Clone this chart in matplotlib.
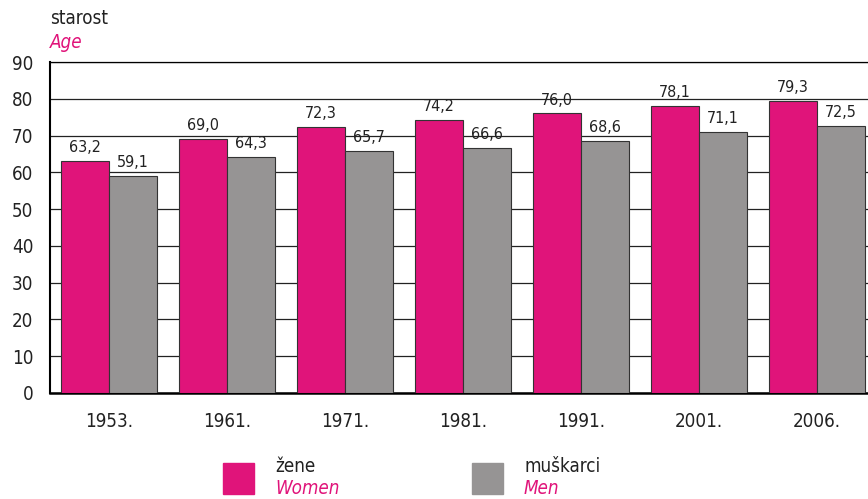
import numpy as np
import matplotlib.pyplot as plt
from matplotlib import font_manager

# narrow look: DejaVu Sans condensed if the file is there
names = {f.name for f in font_manager.fontManager.ttflist}
FONT = 'Liberation Sans Narrow' if 'Liberation Sans Narrow' in names else 'DejaVu Sans'
plt.rcParams['font.family'] = [FONT, 'DejaVu Sans']
plt.rcParams['font.stretch'] = 'condensed'

years = ['1953.', '1961.', '1971.', '1981.', '1991.', '2001.', '2006.']
women = [63.2, 69.0, 72.3, 74.2, 76.0, 78.1, 79.3]
men = [59.1, 64.3, 65.7, 66.6, 68.6, 71.1, 72.5]

PINK = '#E0147A'
GRAY = '#969494'

fig = plt.figure(figsize=(8.68, 4.99), dpi=100)
ax = fig.add_axes([50 / 868, 1 - 393 / 499, 826 / 868, 331 / 499])

x = np.arange(len(years))
w = 0.407
b1 = ax.bar(x - w / 2, women, w, color=PINK, edgecolor='#333333', linewidth=0.8, zorder=3)
b2 = ax.bar(x + w / 2, men, w, color=GRAY, edgecolor='#333333', linewidth=0.8, zorder=3)

for bars, vals in ((b1, women), (b2, men)):
    for r, v in zip(bars, vals):
        ax.text(r.get_x() + r.get_width() / 2, v + 1.6, f'{v:.1f}'.replace('.', ','),
                ha='center', va='bottom', fontsize=11.5, color='#222222', zorder=4)

ax.set_xlim(-0.5, len(years) - 0.5)
ax.set_ylim(0, 90)
ax.set_yticks(range(0, 91, 10))
ax.set_xticks(x)
ax.set_xticklabels(years)
ax.grid(axis='y', color='#222222', linewidth=0.9, zorder=0)
ax.tick_params(length=0, labelsize=13.5, colors='#222222')
ax.tick_params(axis='y', pad=12)
ax.tick_params(axis='x', pad=14)
ax.spines['right'].set_visible(False)
ax.spines['left'].set_linewidth(1.5)
ax.spines['bottom'].set_linewidth(1.8)
ax.spines['top'].set_linewidth(0.9)

fig.text(50 / 868, 1 - 18 / 499, 'starost', fontsize=13.5, va='center', color='#222222')
fig.text(50 / 868, 1 - 42 / 499, 'Age', fontsize=13.5, va='center', style='italic', color=PINK)

# legend drawn by hand, two-line labels
for x0, c, t1, t2 in ((223, PINK, 'žene', 'Women'), (472, GRAY, 'muškarci', 'Men')):
    fig.patches.append(plt.Rectangle((x0 / 868, 1 - 494 / 499), 31 / 868, 31 / 499,
                                     transform=fig.transFigure, color=c))
    fig.text((x0 + 52) / 868, 1 - 467 / 499, t1, fontsize=13.5, va='center', color='#222222')
    fig.text((x0 + 52) / 868, 1 - 489 / 499, t2, fontsize=13.5, va='center', style='italic', color=PINK)

fig.savefig('out.png', dpi=100)
